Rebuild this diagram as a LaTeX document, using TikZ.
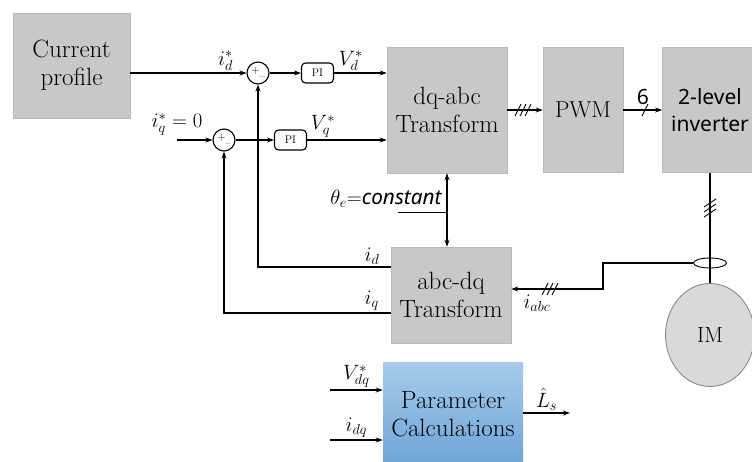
\documentclass[tikz,border=0pt]{standalone}
\usepackage{fontspec}
\newfontfamily\sanslabel{Noto Sans}
\usetikzlibrary{arrows.meta,shapes.geometric,positioning}
\definecolor{boxgray}{RGB}{200,200,200}
\definecolor{boxedge}{RGB}{185,185,185}
\definecolor{motorgray}{RGB}{217,217,217}
\definecolor{paramtop}{RGB}{168,203,234}
\definecolor{parambot}{RGB}{108,164,216}
\begin{document}
\begin{tikzpicture}[x=1pt, y=-1pt, >={Stealth[length=7pt,width=5pt]}, line width=1.1pt,
  blk/.style={draw=boxedge, line width=0.6pt, fill=boxgray, align=center, inner sep=0pt, font=\fontsize{25}{28}\selectfont},
  sumnode/.style={draw, circle, minimum size=22pt, inner sep=0pt, font=\fontsize{11}{11}\selectfont},
  pibox/.style={draw, rounded corners=4pt, minimum width=32pt, minimum height=20pt, inner sep=0pt, font=\fontsize{11}{11}\selectfont},
  sig/.style={font=\fontsize{20.74}{24}\selectfont, inner sep=2pt},
  slash3/.pic={\foreach \dx in {-5,0,5} \draw[line width=0.9pt] (\dx-3,6) -- (\dx+3,-6);},
  slash3v/.pic={\foreach \dy in {-5,0,5} \draw[line width=0.9pt] (-6,\dy+4) -- (6,\dy-4);},
  slash1/.pic={\draw[line width=0.9pt] (-3,6) -- (3,-6);}]
\useasboundingbox (0,0) rectangle (752,461);
\node[blk, minimum width=117pt, minimum height=105pt] (profile) at (71.5,65.5) {Current\\profile};
\node[sumnode] (sumd) at (258,73) {\raisebox{2pt}{+}\raisebox{-4pt}{--}};
\node[sumnode] (sumq) at (224,140) {\raisebox{2pt}{+}\raisebox{-4pt}{--}};
\node[pibox] (pid) at (317.5,73) {PI};
\node[pibox] (piq) at (290.5,140) {PI};
\node[blk, minimum width=120pt, minimum height=126pt] (dqabc) at (447,110) {dq-abc\\Transform};
\node[blk, minimum width=80pt, minimum height=125pt, font=\fontsize{23}{28}\selectfont] (pwm) at (583,110) {PWM};
\node[blk, minimum width=95pt, minimum height=125pt, font=\sanslabel\fontsize{21}{27}\selectfont] (inv) at (710,110) {2-level\\inverter};
\node[blk, minimum width=120pt, minimum height=96pt] (abcdq) at (451,295) {abc-dq\\Transform};
\node[draw=gray, line width=0.8pt, fill=motorgray, ellipse, minimum width=89pt, minimum height=103pt, font=\fontsize{22}{28}\selectfont] (motor) at (710,335) {IM};
\node[blk, draw=none, top color=paramtop, bottom color=parambot, minimum width=140pt, minimum height=104pt] (param) at (453,414) {Parameter\\Calculations};
\coordinate (iqref) at (177,140);
\coordinate (bend) at (603,289);
\coordinate (thetatap) at ([yshift=-39pt]dqabc.south);
\coordinate (vdqin) at (330,390);
\coordinate (idqin) at (330,440);
\coordinate (lsout) at (570,413);
\draw[->] (profile.east |- sumd) -- node[sig, above, pos=0.82] {$i_d^*$} (sumd);
\draw[->] (sumd) -- (pid);
\draw[->] (pid) -- node[sig, above, pos=0.32] {$V_d^*$} (pid -| dqabc.west);
\draw[->] (iqref) node[sig, above=2pt] {$i_q^*=0$} -- (sumq);
\draw[->] (sumq) -- (piq);
\draw[->] (piq) -- node[sig, above, pos=0.2] {$V_q^*$} (piq -| dqabc.west);
\draw[->] (dqabc) -- (pwm);
\pic at (523,110) {slash3};
\draw[->] (pwm) -- node[above=1pt, font=\sanslabel\fontsize{21}{22}\selectfont] {6} (inv);
\pic at (645,110) {slash1};
\draw (inv.south) -- (motor.north);
\pic at (710,208) {slash3v};
\node[draw, ellipse, line width=0.9pt, minimum width=33pt, minimum height=10pt, inner sep=0pt] (ct) at (710,263) {};
\draw[->] (ct.west) -| (bend) -- node[sig, below=3pt, pos=0.72] {$i_{abc}$} (bend -| abcdq.east);
\pic at (550,289) {slash3};
\draw[<->] (dqabc.south) -- (dqabc.south |- abcdq.north);
\draw (thetatap) -- ++(-49,0);
\node[sig] (theta) at (386,199) {$\theta_e$={\sanslabel\itshape constant}};
\draw[->] ([yshift=28pt]abcdq.west) -| node[sig, above, pos=0.07] {$i_d$} (sumd.south);
\draw[->] ([yshift=-18pt]abcdq.west) -| node[sig, above, pos=0.057] {$i_q$} (sumq.south);
\draw[->] (vdqin) -- node[sig, above] {$V_{dq}^*$} (vdqin -| param.west);
\draw[->] (idqin) -- node[sig, above] {$i_{dq}$} (idqin -| param.west);
\draw[->] (param.east |- lsout) -- node[sig, above, pos=0.5] {$\hat{L}_s$} (lsout);
\end{tikzpicture}
\end{document}
